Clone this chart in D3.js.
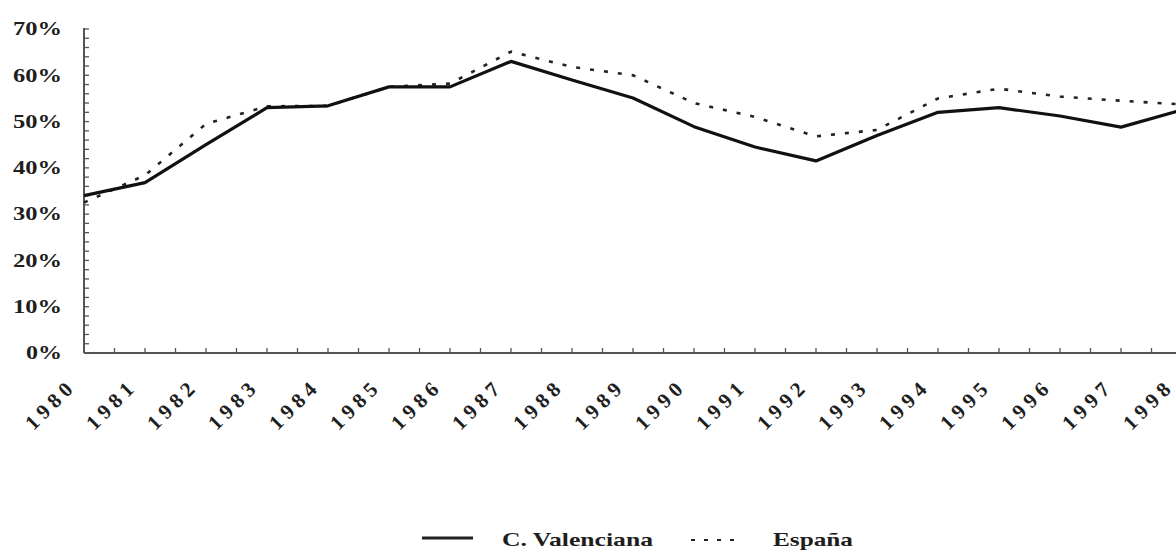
<!DOCTYPE html>
<html>
<head>
<meta charset="utf-8">
<script src="https://cdn.jsdelivr.net/npm/d3@7"></script>
<style>
  html, body { margin: 0; padding: 0; background: #fff; }
  svg text { font-family: "Liberation Serif", "Times New Roman", serif; font-weight: bold; fill: #1e1e1e; }
</style>
</head>
<body>
<svg id="chart" width="1176" height="552"></svg>
<script>
const years = ["1980","1981","1982","1983","1984","1985","1986","1987","1988","1989",
               "1990","1991","1992","1993","1994","1995","1996","1997","1998"];
const valenciana = [34.0, 36.8, 45.0, 53.0, 53.4, 57.5, 57.5, 63.0, 59.0, 55.1,
                    48.9, 44.5, 41.5, 47.0, 52.0, 53.0, 51.2, 48.8, 52.5];
const espana = [32.5, 38.4, 49.5, 53.3, 53.4, 57.5, 58.2, 65.1, 61.8, 60.0,
                54.0, 51.0, 46.8, 48.2, 55.0, 57.1, 55.4, 54.5, 53.7];
const yTicks = [0, 10, 20, 30, 40, 50, 60, 70];
const seriesNames = ["C. Valenciana", "España"];

const svg = d3.select("#chart");
const x0 = 84, x1 = 1182, yBottom = 353, yTop = 29;

const x = d3.scalePoint().domain(years).range([x0, x1]);
const y = d3.scaleLinear().domain([0, 70]).range([yBottom, yTop]);

// minor ticks
const step = x.step();
const xTickPos = d3.range(0, years.length * 2).map(i => x0 + i * step / 2).filter(v => v > x0 && v < 1180);
svg.append("g").selectAll("line").data(xTickPos).join("line")
  .attr("x1", d => d).attr("x2", d => d)
  .attr("y1", yBottom).attr("y2", yBottom - 5)
  .attr("stroke", "#555").attr("stroke-width", 1.3);

const yMinor = d3.range(2, 71, 2);
svg.append("g").selectAll("line").data(yMinor).join("line")
  .attr("x1", x0).attr("x2", x0 + 5)
  .attr("y1", d => y(d)).attr("y2", d => y(d))
  .attr("stroke", "#555").attr("stroke-width", 1.3);

// axes lines
svg.append("line").attr("x1", x0).attr("x2", 1176).attr("y1", yBottom).attr("y2", yBottom)
  .attr("stroke", "#555").attr("stroke-width", 2);
svg.append("line").attr("x1", x0).attr("x2", x0).attr("y1", yTop - 1).attr("y2", yBottom)
  .attr("stroke", "#555").attr("stroke-width", 2);

// y labels
svg.append("g").selectAll("text").data(yTicks).join("text")
  .attr("x", 62).attr("y", d => y(d))
  .attr("dy", "0.33em")
  .attr("text-anchor", "end")
  .attr("textLength", d => d === 0 ? 36 : 49)
  .attr("lengthAdjust", "spacingAndGlyphs")
  .style("font-size", "19px")
  .text(d => d + "%");

// x labels
svg.append("g").selectAll("text").data(years).join("text")
  .attr("transform", d => `translate(${x(d) - 15},${yBottom + 33}) rotate(-45)`)
  .attr("text-anchor", "end")
  .attr("dy", "0.33em")
  .attr("textLength", 57)
  .attr("lengthAdjust", "spacing")
  .style("font-size", "21px")
  .text(d => d);

// lines
const line = d3.line().x((d, i) => x(years[i])).y(d => y(d));
svg.append("path").datum(espana).attr("d", line)
  .attr("fill", "none").attr("stroke", "#222").attr("stroke-width", 2.6)
  .attr("stroke-dasharray", "4,10");
svg.append("path").datum(valenciana).attr("d", line)
  .attr("fill", "none").attr("stroke", "#111").attr("stroke-width", 3.2)
  .attr("stroke-linejoin", "round");

// legend
const lg = svg.append("g");
lg.append("line").attr("x1", 422).attr("x2", 473).attr("y1", 538).attr("y2", 538)
  .attr("stroke", "#222").attr("stroke-width", 3.2);
lg.append("text").attr("x", 502).attr("y", 546).style("font-size", "19px")
  .attr("textLength", 151).attr("lengthAdjust", "spacingAndGlyphs")
  .text(seriesNames[0]);
lg.append("line").attr("x1", 691).attr("x2", 743).attr("y1", 540).attr("y2", 540)
  .attr("stroke", "#222").attr("stroke-width", 2.2).attr("stroke-dasharray", "4,9");
lg.append("text").attr("x", 773).attr("y", 546).style("font-size", "19px")
  .attr("textLength", 80).attr("lengthAdjust", "spacingAndGlyphs")
  .text(seriesNames[1]);
</script>
</body>
</html>
